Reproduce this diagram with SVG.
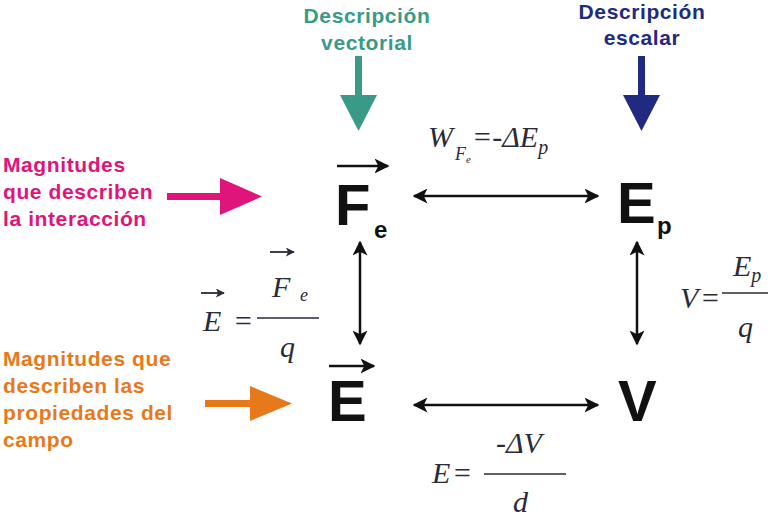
<svg xmlns="http://www.w3.org/2000/svg" width="781" height="523" viewBox="0 0 781 523">
<style>
.lab{font-family:"Liberation Sans",Arial,sans-serif;font-weight:bold;font-size:21px;letter-spacing:0.6px}
.big{font-family:"Liberation Sans",Arial,sans-serif;font-weight:bold;font-size:58px;fill:#111}
.sub{font-family:"Liberation Sans",Arial,sans-serif;font-weight:bold;font-size:24px;fill:#111}
.m{font-family:"Liberation Serif","Times New Roman",serif;font-style:italic;font-size:30px;fill:#2a2a38}
.ms{font-family:"Liberation Serif","Times New Roman",serif;font-style:italic;font-size:18px;fill:#2a2a38}
.c{stroke:#111;stroke-width:2.5;fill:none}
.v{stroke:#2a2a38;stroke-width:1.8}
</style>
<defs>
<marker id="ah" viewBox="0 0 10 10" refX="9" refY="5" markerWidth="6" markerHeight="6" orient="auto-start-reverse"><path d="M0,0L10,5L0,10L2.5,5z" fill="#111"/></marker>
<marker id="ah2" viewBox="0 0 10 10" refX="9" refY="5" markerWidth="5" markerHeight="5" orient="auto"><path d="M0,0L10,5L0,10L2.5,5z" fill="#2a2a38"/></marker>
</defs>
<g id="desc-vectorial">
<text class="lab" x="367" y="23" text-anchor="middle" fill="#3a9a88">Descripción</text>
<text class="lab" x="367" y="50" text-anchor="middle" fill="#3a9a88">vectorial</text>
<rect x="355" y="56" width="7" height="42" fill="#3a9a88"/>
<path d="M340,95L377,95L358.5,131z" fill="#3a9a88"/>
</g>
<g id="desc-escalar">
<text class="lab" x="642" y="19" text-anchor="middle" fill="#1f2a80">Descripción</text>
<text class="lab" x="642" y="45" text-anchor="middle" fill="#1f2a80">escalar</text>
<rect x="638" y="56" width="7" height="42" fill="#1f2a80"/>
<path d="M623,95L660,95L641.5,131z" fill="#1f2a80"/>
</g>
<g id="mag-interaccion">
<text class="lab" x="3" y="172" fill="#e0147a">Magnitudes</text>
<text class="lab" x="3" y="199" fill="#e0147a">que describen</text>
<text class="lab" x="3" y="226" fill="#e0147a">la interacción</text>
<rect x="167" y="193" width="58" height="7" fill="#e0147a"/>
<path d="M220,178L262,196.5L220,215z" fill="#e0147a"/>
</g>
<g id="mag-campo">
<text class="lab" x="3" y="366" fill="#e8791a">Magnitudes que</text>
<text class="lab" x="3" y="393" fill="#e8791a">describen las</text>
<text class="lab" x="3" y="420" fill="#e8791a">propiedades del</text>
<text class="lab" x="3" y="447" fill="#e8791a">campo</text>
<rect x="205" y="400" width="50" height="7" fill="#e8791a"/>
<path d="M250,386L292,403.5L250,421z" fill="#e8791a"/>
</g>
<g id="node-Fe">
<line x1="337" y1="166" x2="388" y2="166" class="c" marker-end="url(#ah)"/>
<text class="big" x="335" y="225">F</text>
<text class="sub" x="374" y="238">e</text>
</g>
<g id="node-Ep">
<text class="big" x="617" y="223">E</text>
<text class="sub" x="657" y="234">p</text>
</g>
<g id="node-E">
<line x1="329" y1="366" x2="374" y2="366" class="c" marker-end="url(#ah)"/>
<text class="big" x="328" y="421">E</text>
</g>
<g id="node-V">
<text class="big" x="618" y="421">V</text>
</g>
<g id="connectors">
<line x1="414" y1="196" x2="598" y2="196" class="c" marker-start="url(#ah)" marker-end="url(#ah)"/>
<line x1="360" y1="242" x2="360" y2="344" class="c" marker-start="url(#ah)" marker-end="url(#ah)"/>
<line x1="637" y1="242" x2="637" y2="344" class="c" marker-start="url(#ah)" marker-end="url(#ah)"/>
<line x1="414" y1="405" x2="598" y2="405" class="c" marker-start="url(#ah)" marker-end="url(#ah)"/>
</g>
<g id="formulas">
<text class="m" x="428" y="147">W</text>
<text class="ms" x="455" y="160">F<tspan font-size="11" dy="3">e</tspan></text>
<text class="m" x="472" y="147" font-style="normal">=-Δ<tspan font-style="italic">E</tspan><tspan font-style="italic" font-size="20" dy="7">p</tspan></text>

<text class="m" x="203" y="331">E</text>
<line x1="201" y1="293" x2="224" y2="293" class="v" marker-end="url(#ah2)"/>
<text class="m" x="233" y="331" font-style="normal">=</text>
<line x1="257" y1="318" x2="319" y2="318" stroke="#2a2a38" stroke-width="1.5"/>
<text class="m" x="272" y="297">F</text>
<line x1="270" y1="252" x2="294" y2="252" class="v" marker-end="url(#ah2)"/>
<text class="ms" x="300" y="301">e</text>
<text class="m" x="280" y="357">q</text>

<text class="m" x="680" y="308">V</text>
<text class="m" x="700" y="308" font-style="normal">=</text>
<line x1="722" y1="293" x2="768" y2="293" stroke="#2a2a38" stroke-width="1.5"/>
<text class="m" x="733" y="276">E<tspan font-size="20" dy="6">p</tspan></text>
<text class="m" x="738" y="337">q</text>

<text class="m" x="432" y="483">E</text>
<text class="m" x="452" y="483" font-style="normal">=</text>
<line x1="484" y1="474" x2="566" y2="474" stroke="#2a2a38" stroke-width="1.5"/>
<text class="m" x="496" y="453" font-style="normal">-Δ<tspan font-style="italic">V</tspan></text>
<text class="m" x="513" y="512">d</text>
</g>
</svg>
